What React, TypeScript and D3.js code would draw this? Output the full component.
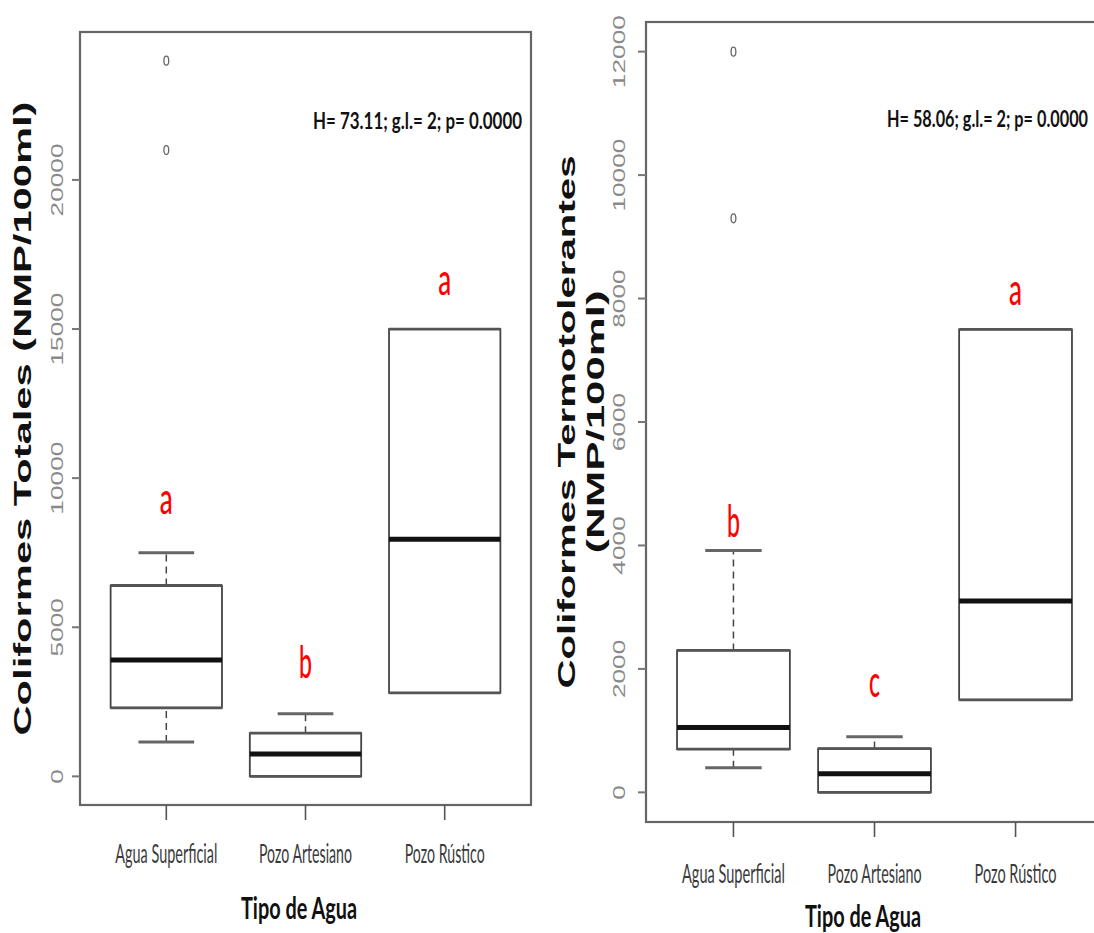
import React, { useEffect, useRef } from "react";
import * as d3 from "d3";

const categories = ["Agua Superficial", "Pozo Artesiano", "Pozo Rústico"];

// Coliformes Totales (left panel)
const totLow = [1150, 0, 2800];
const totQ1 = [2300, 0, 2800];
const totMedian = [3900, 750, 7950];
const totQ3 = [6400, 1450, 15000];
const totHigh = [7500, 2100, 15000];
const totOutliers = [[24000, 21000], [], []];
const totTicks = [0, 5000, 10000, 15000, 20000];
const totLetters = ["a", "b", "a"];
const totLetterY = [8800, 3300, 16150];
const totStats = "H= 73.11; g.l.= 2; p= 0.0000";

// Coliformes Termotolerantes (right panel)
const terLow = [400, 0, 1500];
const terQ1 = [700, 0, 1500];
const terMedian = [1050, 300, 3100];
const terQ3 = [2300, 710, 7500];
const terHigh = [3920, 900, 7500];
const terOutliers = [[12000, 9300], [], []];
const terTicks = [0, 2000, 4000, 6000, 8000, 10000, 12000];
const terLetters = ["b", "c", "a"];
const terLetterY = [4130, 1540, 7890];
const terStats = "H= 58.06; g.l.= 2; p= 0.0000";

const calibri = "Lato, 'Open Sans', sans-serif";
const arial = "'Liberation Sans', Arial, sans-serif";

// narrow text: small font stretched vertically (the picture is squeezed sideways)
function narrowText(g, x, y, txt, size, len, stretch) {
  return g.append("text")
    .attr("transform", `translate(${x},${y}) scale(1,${stretch})`)
    .attr("font-family", calibri)
    .attr("font-size", size / stretch)
    .attr("textLength", len).attr("lengthAdjust", "spacingAndGlyphs")
    .text(txt);
}

function drawPanel(svg, p) {
  const g = svg.append("g");
  const all = [...p.low, ...p.high, ...p.outliers.flat()];
  const [mn, mx] = d3.extent(all);
  const pad = (mx - mn) * 0.04;
  const y = d3.scaleLinear().domain([mn - pad, mx + pad]).range([p.bottom, p.top]);
  const x = d3.scaleLinear().domain([0.38, 3.62]).range([p.left, p.right]);
  const unit = x(2) - x(1);

  // frame
  g.append("rect")
    .attr("x", p.left).attr("y", p.top)
    .attr("width", p.right - p.left).attr("height", p.bottom - p.top)
    .attr("fill", "white").attr("stroke", "#666").attr("stroke-width", 2.2);

  // y ticks + labels
  p.ticks.forEach(t => {
    g.append("line")
      .attr("x1", p.left - 8).attr("x2", p.left)
      .attr("y1", y(t)).attr("y2", y(t))
      .attr("stroke", "#777").attr("stroke-width", 2);
    const s = String(t);
    g.append("text")
      .attr("transform", `translate(${p.left - p.tickLabelGap},${y(t)}) rotate(-90)`)
      .attr("text-anchor", "middle")
      .attr("font-family", arial).attr("font-size", 17)
      .attr("fill", "#8a8a8a")
      .attr("textLength", s.length * 14.6).attr("lengthAdjust", "spacingAndGlyphs")
      .text(s);
  });

  // y title
  p.titleLines.forEach(line => {
    g.append("text")
      .attr("transform", `translate(${p.left - line.gap},${(p.top + p.bottom) / 2}) rotate(-90)`)
      .attr("text-anchor", "middle")
      .attr("font-family", arial).attr("font-weight", 700).attr("font-size", 24)
      .attr("fill", "#111")
      .attr("textLength", line.len).attr("lengthAdjust", "spacingAndGlyphs")
      .text(line.text);
  });

  categories.forEach((c, i) => {
    const cx = x(i + 1);
    const hw = unit * 0.4;
    const cw = unit * 0.2;
    // x tick
    g.append("line")
      .attr("x1", cx).attr("x2", cx)
      .attr("y1", p.bottom).attr("y2", p.bottom + 15)
      .attr("stroke", "#555").attr("stroke-width", 1.6);
    narrowText(g, cx, p.bottom + p.xLabelGap, c, 27, p.xLabelLen[i], 1.7)
      .attr("text-anchor", "middle")
      .attr("fill", "#3a3a3a");

    // whiskers
    const whisk = (a, b) => {
      if (Math.abs(y(a) - y(b)) < 0.5) return;
      g.append("line")
        .attr("x1", cx).attr("x2", cx)
        .attr("y1", y(a)).attr("y2", y(b))
        .attr("stroke", "#444").attr("stroke-width", 1.5)
        .attr("stroke-dasharray", "7,5");
    };
    whisk(p.q3[i], p.high[i]);
    whisk(p.low[i], p.q1[i]);
    [p.high[i], p.low[i]].forEach(v => {
      if (v === p.q3[i] || v === p.q1[i]) return;
      g.append("line")
        .attr("x1", cx - cw).attr("x2", cx + cw)
        .attr("y1", y(v)).attr("y2", y(v))
        .attr("stroke", "#666").attr("stroke-width", 3);
    });

    // box
    const top = y(p.q3[i]);
    const bot = y(p.q1[i]);
    g.append("rect")
      .attr("x", cx - hw).attr("y", top)
      .attr("width", hw * 2).attr("height", bot - top)
      .attr("fill", "white").attr("stroke", "#444").attr("stroke-width", 1.8);
    [top, bot].forEach(yy => {
      g.append("line")
        .attr("x1", cx - hw).attr("x2", cx + hw)
        .attr("y1", yy).attr("y2", yy)
        .attr("stroke", "#555").attr("stroke-width", 2.8);
    });
    g.append("line")
      .attr("x1", cx - hw).attr("x2", cx + hw)
      .attr("y1", y(p.median[i])).attr("y2", y(p.median[i]))
      .attr("stroke", "#111").attr("stroke-width", 5);

    // outliers
    p.outliers[i].forEach(v => {
      g.append("ellipse")
        .attr("cx", cx).attr("cy", y(v))
        .attr("rx", 2.4).attr("ry", 4.5)
        .attr("fill", "none").attr("stroke", "#666").attr("stroke-width", 1.3);
    });

    // significance letter
    narrowText(g, cx, y(p.letterY[i]), p.letters[i], 44, p.letters[i] === "c" ? 11 : 13, 1.7)
      .attr("text-anchor", "middle")
      .attr("font-weight", 500)
      .attr("fill", "#ff0000");
  });

  // stats
  narrowText(g, p.statsX, p.statsY, p.stats, 23, p.statsLen, 1.5)
    .attr("font-weight", 700)
    .attr("fill", "#111");

  // x title
  narrowText(g, p.xTitleX, p.bottom + p.xTitleGap, "Tipo de Agua", 31, 116, 1.5)
    .attr("text-anchor", "middle")
    .attr("font-weight", 700)
    .attr("fill", "#111");
}

export default function App() {
  const svgRef = useRef(null);
  useEffect(() => {
    const svg = d3.select(svgRef.current);
    svg.selectAll("*").remove();
    svg.append("rect").attr("width", 1094).attr("height", 933).attr("fill", "white");

    drawPanel(svg, {
      left: 80, right: 531, top: 32, bottom: 805,
      low: totLow, q1: totQ1, median: totMedian, q3: totQ3, high: totHigh,
      outliers: totOutliers, ticks: totTicks, letters: totLetters, letterY: totLetterY,
      tickLabelGap: 17,
      titleLines: [{ text: "Coliformes  Totales  (NMP/100ml)", gap: 49, len: 634 }],
      xLabelGap: 58, xLabelLen: [102, 93, 80],
      xTitleGap: 114, xTitleX: 299,
      stats: totStats, statsX: 313, statsY: 129, statsLen: 209,
    });

    drawPanel(svg, {
      left: 646, right: 1103, top: 22, bottom: 822,
      low: terLow, q1: terQ1, median: terMedian, q3: terQ3, high: terHigh,
      outliers: terOutliers, ticks: terTicks, letters: terLetters, letterY: terLetterY,
      tickLabelGap: 21,
      titleLines: [
        { text: "Coliformes  Termotolerantes", gap: 71, len: 533 },
        { text: "(NMP/100ml)", gap: 42, len: 263 },
      ],
      xLabelGap: 61, xLabelLen: [103, 94, 82],
      xTitleGap: 105, xTitleX: 863,
      stats: terStats, statsX: 887, statsY: 127, statsLen: 201,
    });
  }, []);
  return (
    <svg ref={svgRef} width={1094} height={933}
      style={{ position: "absolute", left: 0, top: 0, display: "block" }} />
  );
}
